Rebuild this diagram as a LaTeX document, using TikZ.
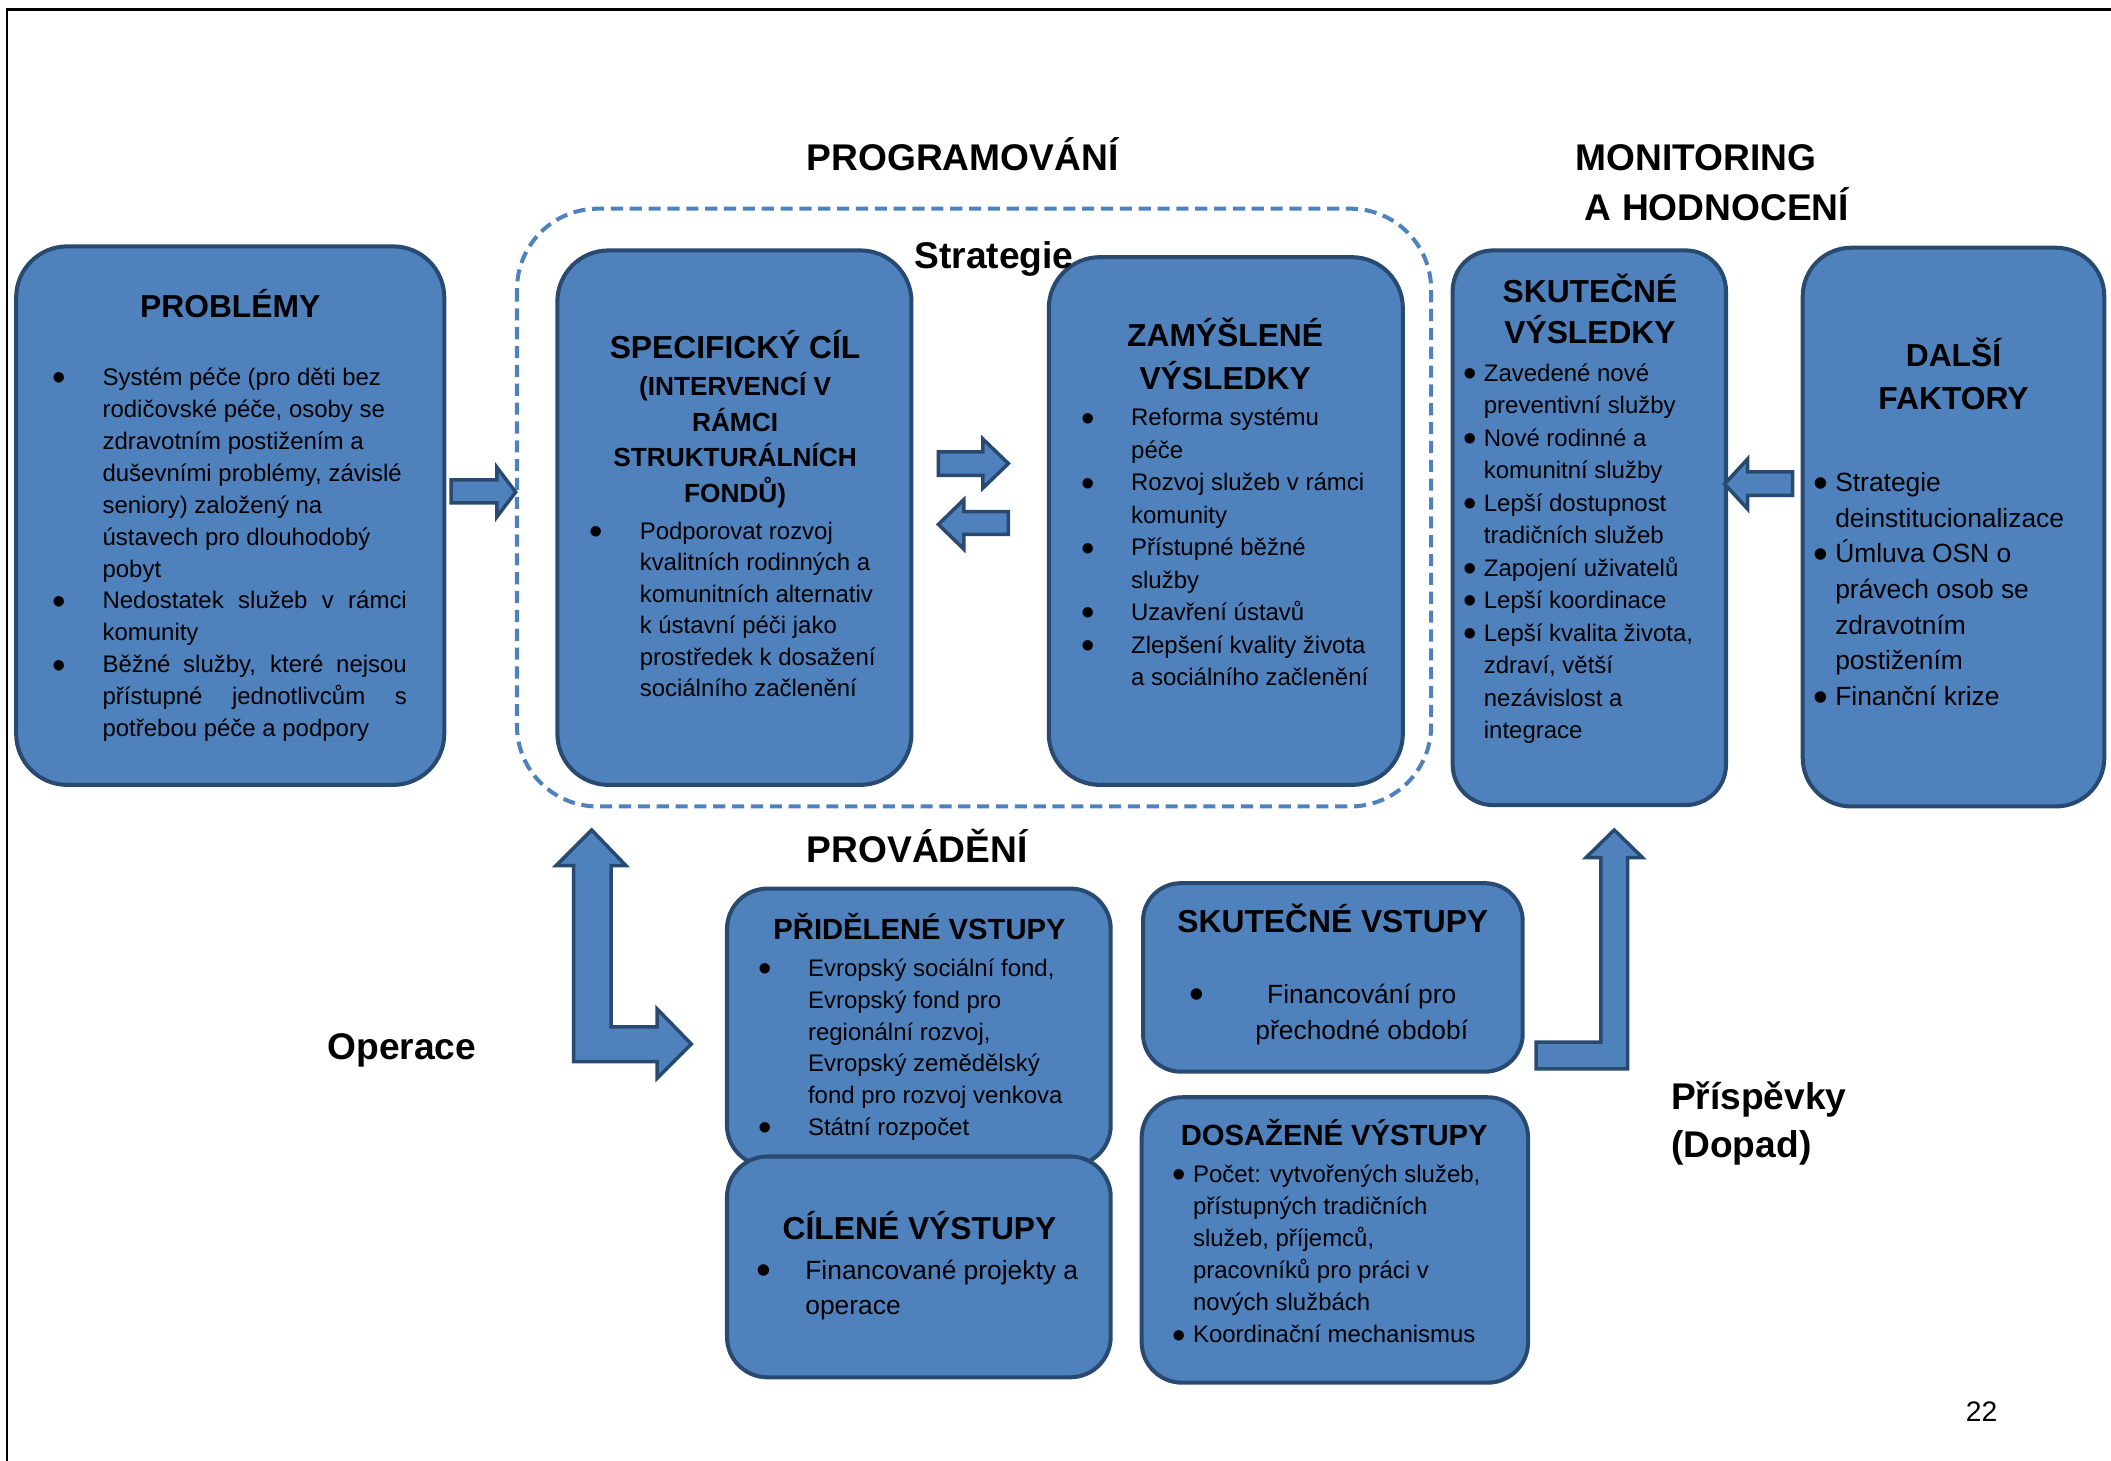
\documentclass[tikz,border=0pt]{standalone}
\usepackage{fontspec}
\setmainfont{Liberation Sans}
\definecolor{boxfill}{HTML}{4F81BD}
\definecolor{boxline}{HTML}{294A70}
\definecolor{dashcol}{HTML}{4F81BD}
\newcommand{\bigbul}{\smash{\raisebox{-0.22em}{\scalebox{1.6}{\textbullet}}}}
\newcommand{\bu}[1]{\llap{\hbox to #1pt{\makebox[0pt]{\bigbul}\hfil}}}
\newcommand{\leftlines}[1]{\vtop{\halign{##\hfil\cr#1\crcr}}}
\newcommand{\centerlines}[1]{\vtop{\halign{\hfil##\hfil\cr#1\crcr}}}
\tikzset{
  box/.style={draw=boxline, fill=boxfill, line width=3pt, rounded corners=#1, inner sep=0pt},
  box/.default=38pt,
  txt/.style={inner sep=0pt, anchor=base west, text=black},
  ctxt/.style={inner sep=0pt, anchor=base, text=black},
  ttl/.style={font=\fontsize{23.6}{31.5}\selectfont\bfseries},
  subttl/.style={font=\fontsize{21.7}{28}\selectfont\bfseries},
  big/.style={font=\fontsize{27.6}{36}\selectfont\bfseries},
  barrow/.style={draw=boxline, fill=boxfill, line width=2.6pt, line join=miter},
  dashframe/.style={draw=dashcol, line width=3pt, dash pattern=on 9pt off 5pt, rounded corners=60pt},
}
\begin{document}
\begin{tikzpicture}[x=1pt,y=-1pt]
\useasboundingbox (0,0) rectangle (1568,1085);
% page frame
\coordinate (fbl) at (5,1085);
\coordinate (ftl) at (5,7);
\coordinate (ftr) at (1568,7);
\draw[line width=1.8pt] (fbl) -- (ftl) -- (ftr);

% dashed strategy region
\draw[dashframe] (384,155) rectangle (1063,599);

% boxes
\node[box, minimum width=318pt, minimum height=400pt] (prob) at (171,383) {};
\node[box, minimum width=263pt, minimum height=397pt] (spec) at (545.5,384.5) {};
\node[box, minimum width=263pt, minimum height=392pt] (zam) at (910.5,387) {};
\node[box=30pt, minimum width=203pt, minimum height=412pt] (skv) at (1180.5,392) {};
\node[box=36pt, minimum width=224pt, minimum height=415pt] (dal) at (1451,391.5) {};
\node[box=30pt, minimum width=285pt, minimum height=206pt] (prid) at (682.5,763) {};
\node[box=30pt, minimum width=285pt, minimum height=164pt] (cil) at (682.5,941) {};
\node[box=28pt, minimum width=282pt, minimum height=140pt] (skvs) at (990,726) {};
\node[box=30pt, minimum width=287pt, minimum height=212pt] (dos) at (991.5,921) {};

% block arrows
\draw[barrow] (335,356.5) -- (369,356.5) -- (369,347) -- (383,365.5) -- (369,384) -- (369,373.6) -- (335,373.6) -- cycle;
\draw[barrow] (697,335.6) -- (730,335.6) -- (730,326) -- (749,344.3) -- (730,362.6) -- (730,353) -- (697,353) -- cycle;
\draw[barrow] (749,380) -- (716,380) -- (716,371) -- (697,389.5) -- (716,408) -- (716,397) -- (749,397) -- cycle;
\draw[barrow] (1331.5,350.5) -- (1298,350.5) -- (1298,341) -- (1281,359.5) -- (1298,378) -- (1298,368) -- (1331.5,368) -- cycle;
\draw[barrow] (439.5,616.5) -- (465,643) -- (454,643) -- (454,762.7) -- (488,762.7) -- (488,749.3) -- (513.5,775.5) -- (488,801) -- (488,788.6) -- (426,788.6) -- (426,643) -- (413,643) -- cycle;
\draw[barrow] (1141,774) -- (1189,774) -- (1189,637) -- (1178,637) -- (1199,616.5) -- (1220,637) -- (1209,637) -- (1209,794) -- (1141,794) -- cycle;

% big labels
\node[txt, big] (lprog) at (599,127) {PROGRAMOVÁNÍ};
\node[txt, big] (lmon) at (1170,127) {MONITORING};
\node[txt, big] (lhod) at (1177,163.5) {A HODNOCENÍ};
\node[txt, big] (lstr) at (679,199.5) {Strategie};
\node[txt, big] (lprov) at (599,640.5) {PROVÁDĚNÍ};
\node[txt, big] (lop) at (243,787) {Operace};
\node[txt, big] (lpri) at (1241,824) {Příspěvky};
\node[txt, big] (ldop) at (1241,860) {(Dopad)};
\node[txt, font=\fontsize{21}{25}\selectfont] (lpage) at (1460,1055.5) {22};

% PROBLÉMY
\node[ctxt, ttl] (tprob) at (171,235.5) {PROBLÉMY};
\node[txt, font=\fontsize{17.8}{23.7}\selectfont] (bprob) at (76,286.4) {\leftlines{%
\bu{32}Systém péče (pro děti bez\cr
rodičovské péče, osoby se\cr
zdravotním postižením a\cr
duševními problémy, závislé\cr
seniory) založený na\cr
ústavech pro dlouhodobý\cr
pobyt\cr
\bu{32}\makebox[226pt][s]{Nedostatek služeb v rámci}\cr
komunity\cr
\bu{32}\makebox[226pt][s]{Běžné služby, které nejsou}\cr
\makebox[226pt][s]{přístupné jednotlivcům s}\cr
potřebou péče a podpory}};

% SPECIFICKÝ CÍL
\node[ctxt, ttl] (tspec) at (546,266.5) {SPECIFICKÝ CÍL};
\node[ctxt, font=\fontsize{19.5}{26.3}\selectfont\bfseries] (tspec2) at (546,294) {\centerlines{(INTERVENCÍ V\cr RÁMCI\cr STRUKTURÁLNÍCH\cr FONDŮ)}};
\node[txt, font=\fontsize{17.8}{23.4}\selectfont] (bspec) at (475,400.4) {\leftlines{%
\bu{32}Podporovat rozvoj\cr
kvalitních rodinných a\cr
komunitních alternativ\cr
k ústavní péči jako\cr
prostředek k dosažení\cr
sociálního začlenění}};

% ZAMÝŠLENÉ VÝSLEDKY
\node[ctxt, font=\fontsize{23.6}{32}\selectfont\bfseries] (tzam) at (910,257.5) {\centerlines{ZAMÝŠLENÉ\cr VÝSLEDKY}};
\node[txt, font=\fontsize{17.8}{24.1}\selectfont] (bzam) at (840,316.4) {\leftlines{%
\bu{32}Reforma systému\cr
péče\cr
\bu{32}Rozvoj služeb v rámci\cr
komunity\cr
\bu{32}Přístupné běžné\cr
služby\cr
\bu{32}Uzavření ústavů\cr
\bu{32}Zlepšení kvality života\cr
a sociálního začlenění}};

% SKUTEČNÉ VÝSLEDKY
\node[ctxt, font=\fontsize{23.6}{31}\selectfont\bfseries] (tskv) at (1181,224.5) {\centerlines{SKUTEČNÉ\cr VÝSLEDKY}};
\node[txt, font=\fontsize{17.8}{24.1}\selectfont] (bskv) at (1102,283.4) {\leftlines{%
\bu{10}Zavedené nové\cr
preventivní služby\cr
\bu{10}Nové rodinné a\cr
komunitní služby\cr
\bu{10}Lepší dostupnost\cr
tradičních služeb\cr
\bu{10}Zapojení uživatelů\cr
\bu{10}Lepší koordinace\cr
\bu{10}Lepší kvalita života,\cr
zdraví, větší\cr
nezávislost a\cr
integrace}};

% DALŠÍ FAKTORY
\node[ctxt, font=\fontsize{23.6}{32}\selectfont\bfseries] (tdal) at (1451,272.5) {\centerlines{DALŠÍ\cr FAKTORY}};
\node[txt, font=\fontsize{19.6}{26.5}\selectfont] (bdal) at (1363,365) {\leftlines{%
\bu{11}Strategie\cr
deinstitucionalizace\cr
\bu{11}Úmluva OSN o\cr
právech osob se\cr
zdravotním\cr
postižením\cr
\bu{11}Finanční krize}};

% PŘIDĚLENÉ VSTUPY
\node[ctxt, subttl] (tprid) at (683,697.8) {PŘIDĚLENÉ VSTUPY};
\node[txt, font=\fontsize{17.8}{23.6}\selectfont] (bprid) at (600,725.4) {\leftlines{%
\bu{32}Evropský sociální fond,\cr
Evropský fond pro\cr
regionální rozvoj,\cr
Evropský zemědělský\cr
fond pro rozvoj venkova\cr
\bu{32}Státní rozpočet}};

% CÍLENÉ VÝSTUPY
\node[ctxt, ttl] (tcil) at (683,920.5) {CÍLENÉ VÝSTUPY};
\node[txt, font=\fontsize{19.6}{26}\selectfont] (bcil) at (598,950) {\leftlines{%
\bu{31}Financované projekty a\cr
operace}};

% SKUTEČNÉ VSTUPY
\node[ctxt, ttl] (tskvs) at (990,692.5) {SKUTEČNÉ VSTUPY};
\node[txt, font=\fontsize{19.6}{27}\selectfont] (bulskvs) at (888,745) {\makebox[0pt]{\bigbul}};
\node[ctxt, font=\fontsize{19.6}{27}\selectfont] (bskvs) at (1011.5,745) {\centerlines{Financování pro\cr přechodné období}};

% DOSAŽENÉ VÝSTUPY
\node[ctxt, subttl] (tdos) at (991,850.8) {DOSAŽENÉ VÝSTUPY};
\node[txt, font=\fontsize{17.8}{23.8}\selectfont] (bdos) at (886,878.4) {\leftlines{%
\bu{10}Počet: vytvořených služeb,\cr
přístupných tradičních\cr
služeb, příjemců,\cr
pracovníků pro práci v\cr
nových službách\cr
\bu{10}Koordinační mechanismus}};
\end{tikzpicture}
\end{document}
